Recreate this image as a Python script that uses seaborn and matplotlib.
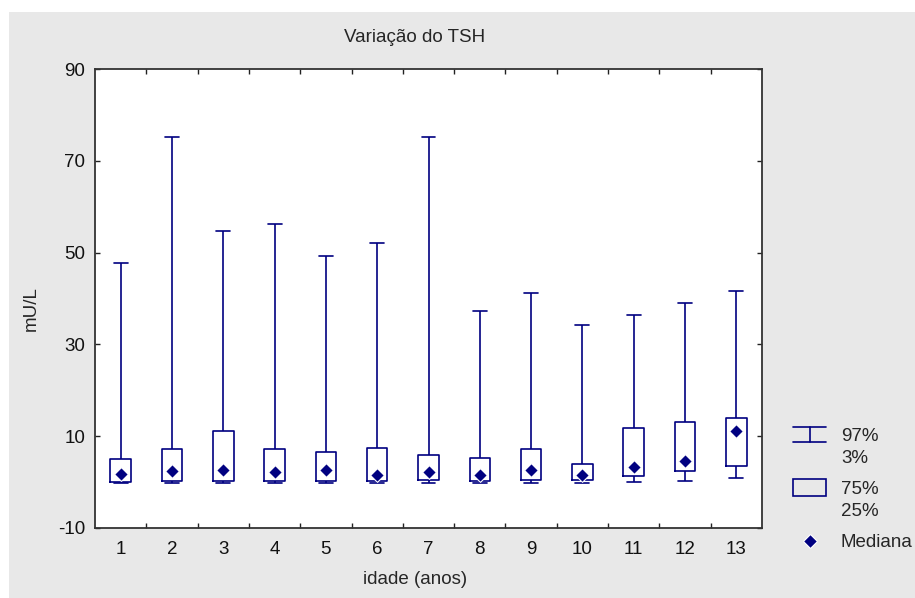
import numpy as np
import pandas as pd
import seaborn as sns
from matplotlib import pyplot as plt
from matplotlib.legend_handler import HandlerBase
from matplotlib.lines import Line2D
from matplotlib.patches import Rectangle, Patch

# TSH (mU/L) by age: 3rd, 25th, 50th, 75th and 97th percentiles
idades = [str(i) for i in range(1, 14)]
p3 = [-0.2, -0.2, -0.2, -0.2, -0.2, -0.2, -0.2, -0.2, -0.1, -0.1, 0.0, 0.2, 1.0]
p25 = [0.0, 0.3, 0.2, 0.2, 0.2, 0.2, 0.5, 0.2, 0.5, 0.5, 1.4, 2.4, 3.6]
mediana = [1.8, 2.4, 2.7, 2.3, 2.7, 1.6, 2.3, 1.6, 2.7, 1.6, 3.3, 4.5, 11.1]
p75 = [5.1, 7.3, 11.1, 7.2, 6.6, 7.5, 5.9, 5.3, 7.2, 4.0, 11.8, 13.1, 14.0]
p97 = [47.8, 75.1, 54.8, 56.2, 49.3, 52.0, 75.1, 37.2, 41.2, 34.3, 36.4, 39.0, 41.6]

y_ticks = [-10, 10, 30, 50, 70, 90]

NAVY = '#000080'
FS = 13.5

# five points per age; with whis=(0, 100) the box/whiskers land exactly on them
df = pd.DataFrame({
    'idade': np.repeat(idades, 5),
    'tsh': np.column_stack([p3, p25, mediana, p75, p97]).ravel(),
})
med_df = pd.DataFrame({'idade': idades, 'mediana': mediana})


class SymbolHandler(HandlerBase):
    """Legend symbol placed beside the first line of a two-line label."""

    def __init__(self, kind, lift=0.0):
        super().__init__()
        self.kind = kind
        self.lift = lift

    def create_artists(self, legend, orig_handle, xdescent, ydescent,
                       width, height, fontsize, trans):
        x0 = -xdescent
        x1 = x0 + width
        xm = (x0 + x1) / 2
        yc = -ydescent + height / 2 + self.lift
        if self.kind == 'whisker':
            h = 5.4
            arts = [Line2D([x0, x1], [yc + h, yc + h]),
                    Line2D([x0, x1], [yc - h, yc - h]),
                    Line2D([xm, xm], [yc - h, yc + h])]
            for a in arts:
                a.set_color(NAVY)
                a.set_linewidth(1.2)
        elif self.kind == 'box':
            arts = [Rectangle((x0, yc - 6.1), width, 12.2,
                              facecolor='none', edgecolor=NAVY, linewidth=1.2)]
        else:
            arts = [Line2D([xm], [yc], marker='D', markersize=7, color=NAVY,
                           markeredgecolor='white', markeredgewidth=0.8,
                           linestyle='none')]
        for a in arts:
            a.set_transform(trans)
        return arts


sns.set_theme(style='white')
plt.rcParams['font.family'] = ['Liberation Sans', 'DejaVu Sans']
plt.rcParams['axes.unicode_minus'] = False

fig = plt.figure(figsize=(9.15, 5.98), dpi=100)
fig.patch.set_facecolor('white')
fig.patches.append(Rectangle((9 / 915, 0), 1, 1 - 12 / 598, transform=fig.transFigure,
                             facecolor='#e8e8e8', edgecolor='none', zorder=-10))

ax = fig.add_axes([95 / 915, 1 - 528 / 598, 667 / 915, 459 / 598])
ax.set_facecolor('white')

sns.boxplot(data=df, x='idade', y='tsh', order=idades, whis=(0, 100), width=0.4,
            fill=False, color=NAVY, linewidth=1.2, showfliers=False,
            capwidths=0.27, medianprops={'visible': False}, ax=ax)
sns.stripplot(data=med_df, x='idade', y='mediana', order=idades, jitter=False,
              marker='D', size=7, color=NAVY, edgecolor='white', linewidth=0.8,
              zorder=5, ax=ax)

ax.set_xlim(-0.5, len(idades) - 0.5)
ax.set_ylim(-10, 90)
ax.set_yticks(y_ticks)
ax.set_xticks(np.arange(0.5, len(idades) - 1, 1), minor=True)
ax.tick_params(axis='x', which='major', length=0, pad=9, labelsize=FS, colors='#111111')
ax.tick_params(axis='x', which='minor', direction='in', length=3.5, width=1,
               top=True, bottom=True, color='#222222')
ax.tick_params(axis='y', which='major', direction='in', length=3.5, width=1,
               left=True, right=True, pad=7, labelsize=FS, colors='#111111')
ax.tick_params(axis='y', which='major', color='#222222')
for sp in ax.spines.values():
    sp.set_color('#333333')
    sp.set_linewidth(1.3)

ax.set_title('Variação do TSH', fontsize=FS, x=(415 - 95) / 667, y=(528 - 42) / 459, pad=0)
ax.set_xlabel('idade (anos)', fontsize=FS)
ax.xaxis.set_label_coords((415 - 95) / 667, (528 - 571) / 459)
ax.set_ylabel('mU/L', fontsize=FS)
ax.yaxis.set_label_coords((40 - 95) / 667, (528 - 309) / 459)

h_wh = Line2D([], [])
h_box = Patch()
h_med = Line2D([], [], marker='D')
leg = ax.legend(handles=[h_wh, h_box, h_med],
                labels=['97%\n3%', '75%\n25%', 'Mediana'],
                handler_map={h_wh: SymbolHandler('whisker', lift=9.0),
                             h_box: SymbolHandler('box', lift=9.0),
                             h_med: SymbolHandler('median')},
                loc='upper left', bbox_to_anchor=(793 / 915, 1 - 428 / 598),
                bbox_transform=fig.transFigure, frameon=False, borderpad=0,
                borderaxespad=0, handlelength=1.76, handletextpad=0.8,
                labelspacing=0.75, fontsize=FS)
for t in leg.get_texts():
    t.set_linespacing(1.38)

fig.savefig('out.png', dpi=100)
